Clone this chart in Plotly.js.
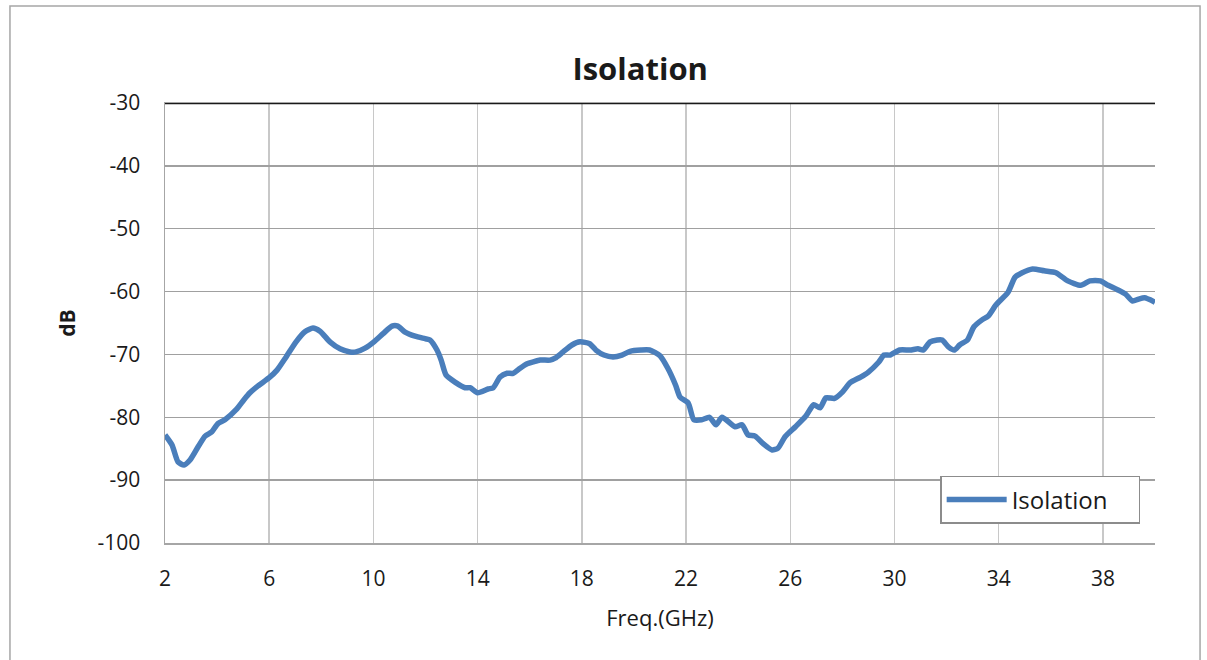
<!DOCTYPE html>
<html>
<head>
<meta charset="utf-8">
<script src="https://cdn.plot.ly/plotly-3.0.1.min.js"></script>
<style>
html,body{margin:0;padding:0;background:#fff;}
#chart{width:1207px;height:660px;}
</style>
</head>
<body>
<div id="chart"></div>
<script>
const freq = [2,2.27,2.5,2.73,2.96,3.27,3.54,3.8,4.03,4.3,4.73,5.03,5.26,5.57,6,6.3,6.65,7.03,7.37,7.68,7.95,8.33,8.72,9.1,9.33,9.68,10.02,10.37,10.71,10.94,11.2,11.6,11.98,12.17,12.44,12.6,12.79,13.13,13.52,13.71,14,14.4,14.6,14.86,15.13,15.36,15.63,15.9,16.13,16.4,16.78,16.97,17.28,17.62,17.93,18.3,18.54,18.85,19.2,19.54,19.85,20.27,20.6,21,21.3,21.6,21.77,22.08,22.3,22.6,22.9,23.15,23.38,23.88,24.15,24.38,24.65,24.96,25.3,25.53,25.8,26.2,26.6,26.9,27.14,27.37,27.7,28,28.3,28.7,29,29.4,29.6,29.83,30.2,30.6,30.9,31.1,31.37,31.64,31.83,32.07,32.3,32.5,32.8,33.05,33.36,33.6,33.9,34.36,34.63,34.9,35.3,35.75,36.2,36.65,37.15,37.5,37.9,38.2,38.56,38.87,39.14,39.37,39.6,40];
const isolation = [-82.8,-84.4,-87.1,-87.6,-86.8,-84.7,-83,-82.3,-81,-80.4,-78.8,-77.2,-76.1,-75,-73.7,-72.5,-70.4,-68,-66.4,-65.8,-66.3,-68,-69.1,-69.6,-69.6,-69,-68,-66.7,-65.5,-65.5,-66.4,-67.1,-67.5,-67.7,-69.3,-70.9,-73.3,-74.4,-75.3,-75.3,-76.1,-75.5,-75.3,-73.6,-73,-73,-72.2,-71.5,-71.2,-70.9,-70.9,-70.6,-69.6,-68.5,-68,-68.3,-69.3,-70.1,-70.4,-70.1,-69.5,-69.3,-69.3,-70.2,-72.2,-74.9,-76.8,-77.7,-80.4,-80.4,-80,-81.2,-80,-81.5,-81.2,-82.8,-83,-84.2,-85.2,-84.9,-83.1,-81.5,-79.8,-78,-78.5,-76.9,-77,-76,-74.5,-73.6,-72.8,-71.2,-70.1,-70.1,-69.3,-69.3,-69.1,-69.3,-68,-67.7,-67.7,-68.8,-69.3,-68.5,-67.7,-65.6,-64.5,-63.9,-62.1,-60.1,-57.7,-57,-56.4,-56.7,-57,-58.3,-59,-58.3,-58.3,-59,-59.7,-60.4,-61.5,-61.2,-61,-61.7];
const xTicks = [2,6,10,14,18,22,26,30,34,38];
const yTicks = [-30,-40,-50,-60,-70,-80,-90,-100];

const font = "Open Sans, Noto Sans, sans-serif";
const data = [{
  x: freq, y: isolation, type: 'scatter', mode: 'lines', name: 'Isolation',
  line: {color: '#4a7ebb', width: 5.5, shape: 'spline', smoothing: 0.6}
}];
const layout = {
  width: 1207, height: 660,
  margin: {l: 165, r: 52, t: 103, b: 117},
  paper_bgcolor: '#ffffff', plot_bgcolor: '#ffffff',
  title: {text: '<b>Isolation</b>', font: {family: font, size: 31, color: '#1a1a1a'}, xref: 'paper', x: 0.48, xanchor: 'center', y: 0.895, yanchor: 'middle'},
  xaxis: {
    range: [2, 40], tickvals: xTicks, ticktext: xTicks.map(String),
    showgrid: true, gridcolor: '#c8c8c8', gridwidth: 1.5,
    showline: true, linecolor: '#a6a6a6', linewidth: 1.5, mirror: true,
    zeroline: false, ticks: '', ticklabelstandoff: 16,
    tickfont: {family: font, size: 21, color: '#1a1a1a'},
    title: {text: 'Freq.(GHz)', font: {family: font, size: 22, color: '#1a1a1a'}, standoff: 20}
  },
  yaxis: {
    range: [-100, -30], tickvals: yTicks, ticktext: yTicks.map(String),
    showgrid: true, gridcolor: '#a0a0a0', gridwidth: 1.5,
    showline: true, linecolor: '#a6a6a6', linewidth: 1.5,
    zeroline: false, ticks: '', ticklabelstandoff: 19,
    tickfont: {family: font, size: 21, color: '#1a1a1a'},
    title: {text: '<b>dB</b>', font: {family: font, size: 21, color: '#1a1a1a'}, standoff: 16}
  },
  showlegend: true,
  legend: {
    orientation: 'h',
    x: 0.783, y: 0.098, xanchor: 'left', yanchor: 'middle',
    bgcolor: '#ffffff', bordercolor: '#8c8c8c', borderwidth: 1.5,
    font: {family: font, size: 24, color: '#1a1a1a'},
    itemwidth: 60, entrywidth: 122, entrywidthmode: 'pixels'
  },
  shapes: [
    {type: 'line', xref: 'paper', yref: 'y', x0: 0, x1: 1, y0: -30, y1: -30, line: {color: '#1a1a1a', width: 2.5}},
    {type: 'rect', xref: 'paper', yref: 'paper', x0: -0.1566, x1: 1.0455, y0: -0.27, y1: 1.2205, line: {color: '#a6a6a6', width: 1.5}, layer: 'below'}
  ]
};
Plotly.newPlot('chart', data, layout, {displayModeBar: false, staticPlot: true});
</script>
</body>
</html>
